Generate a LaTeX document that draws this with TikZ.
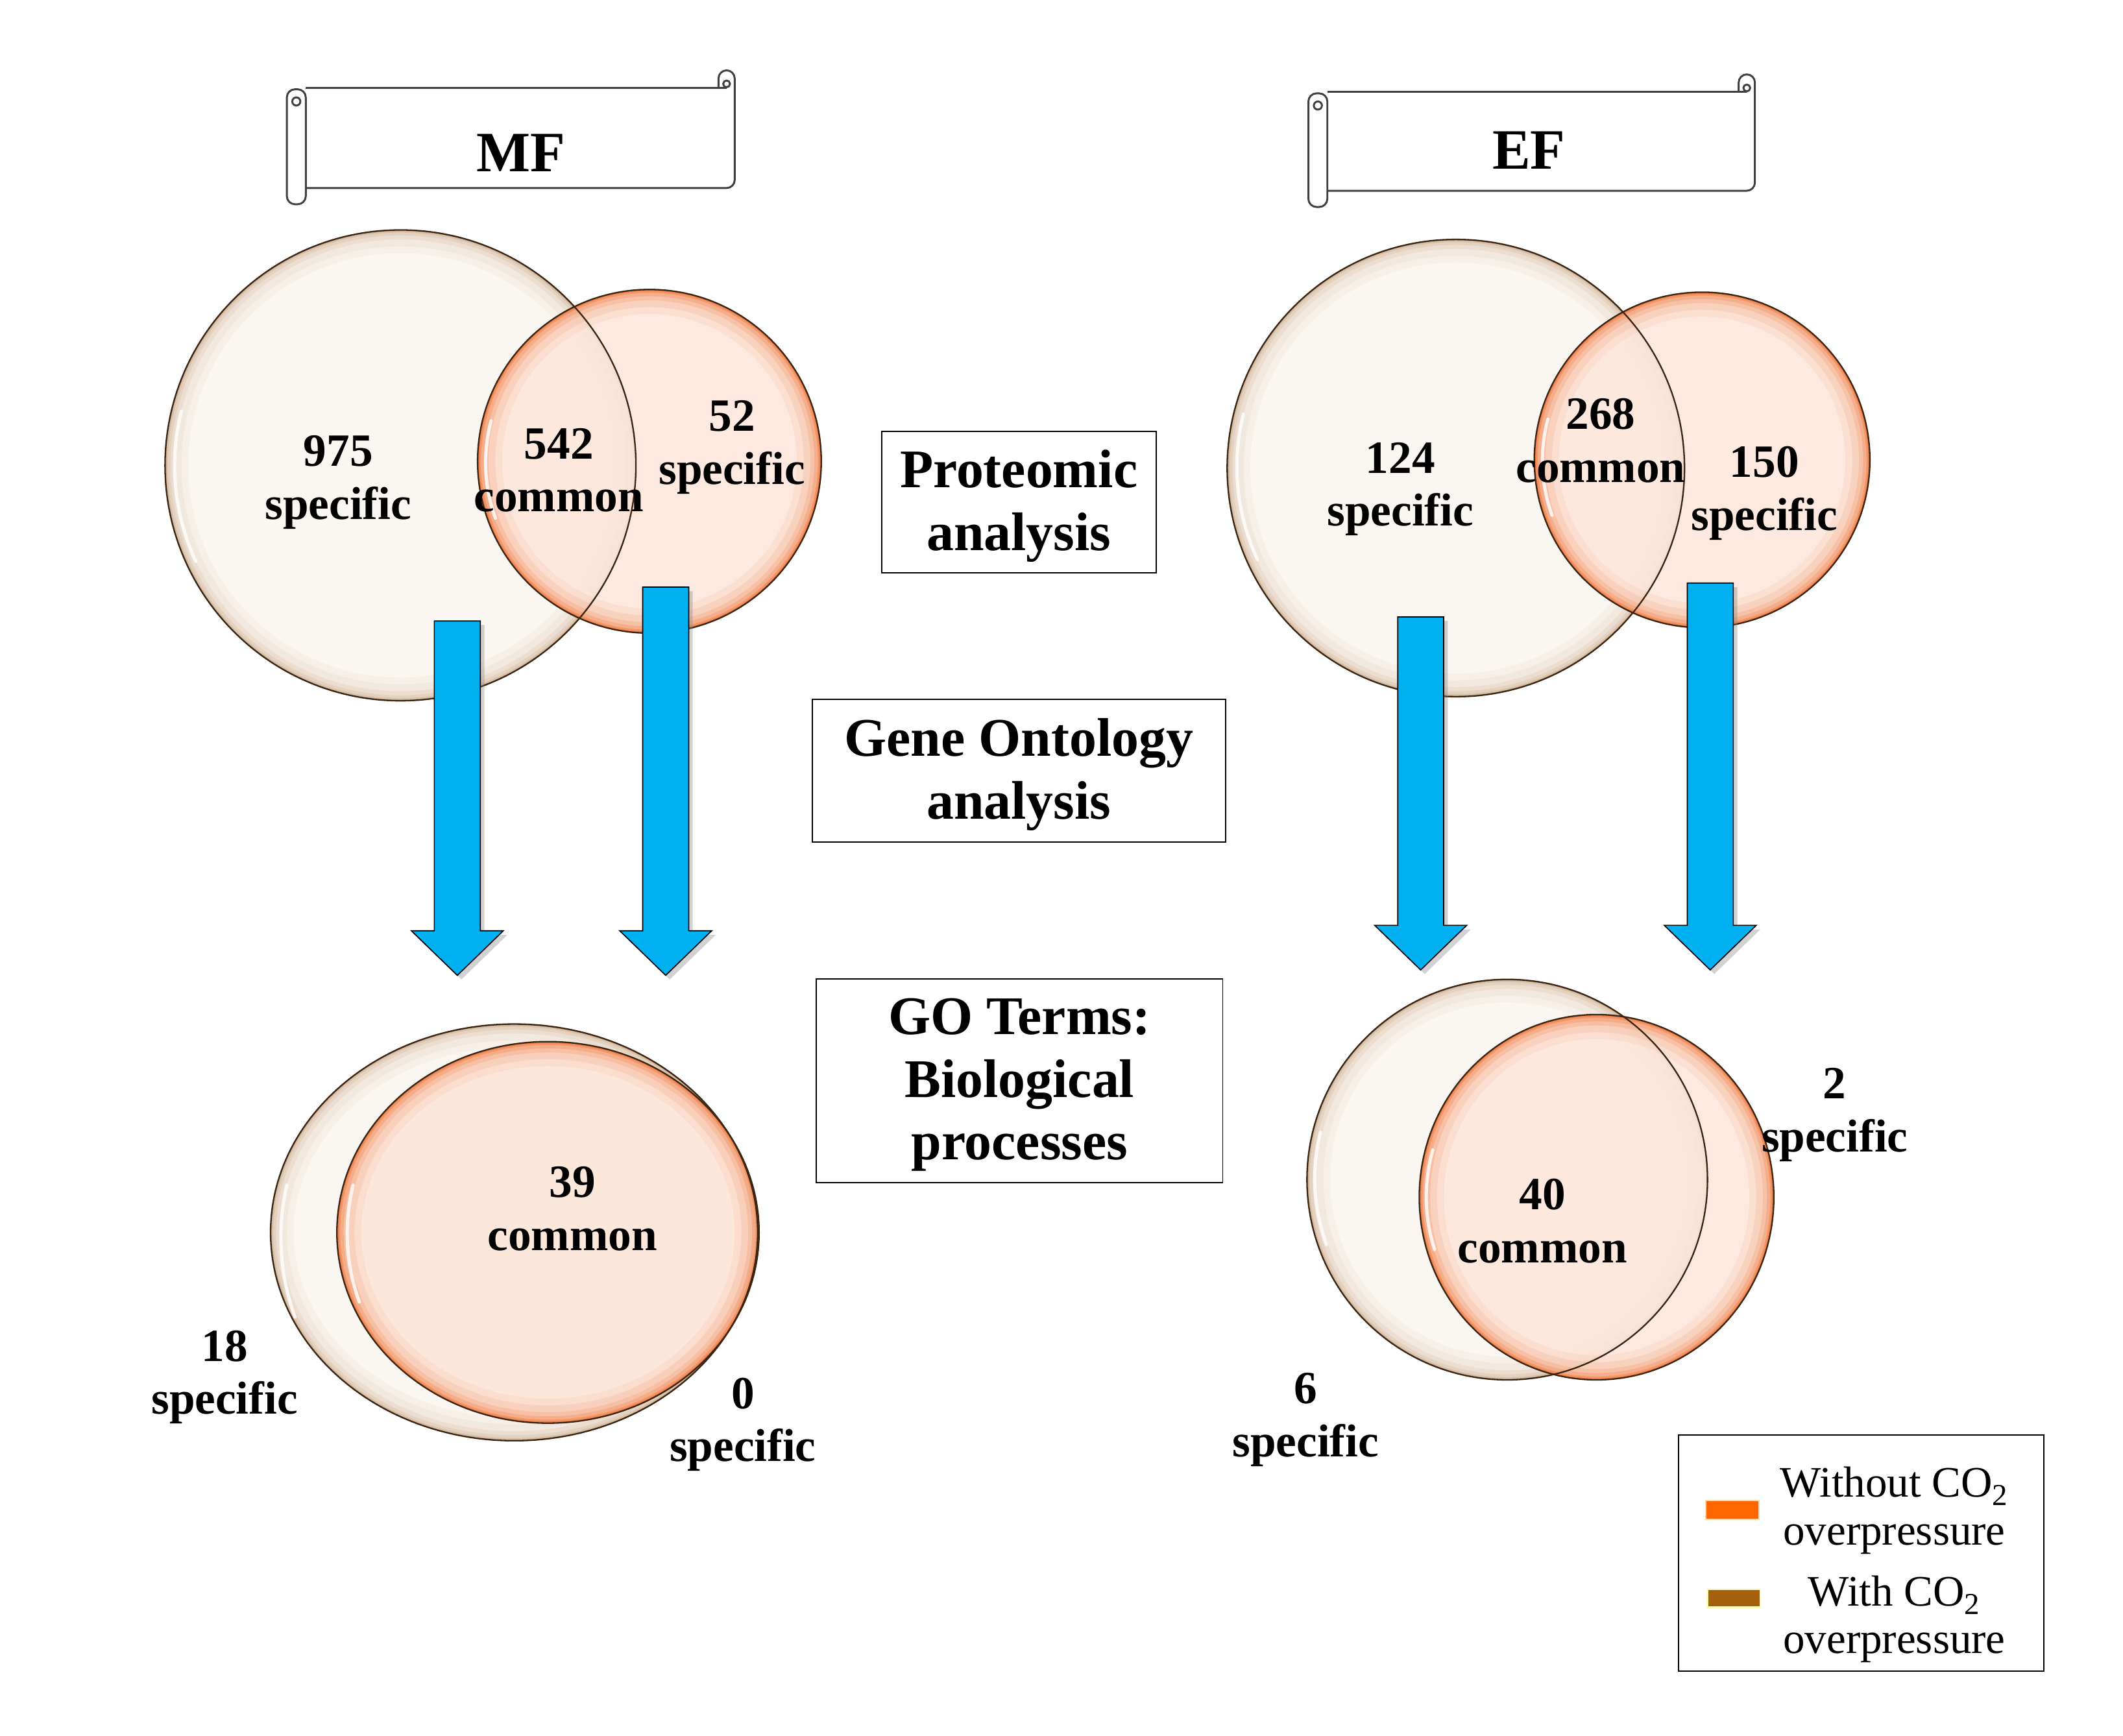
\documentclass[tikz,border=0pt]{standalone}
\usepackage{fontspec}
\setmainfont{Liberation Serif}
\usetikzlibrary{shadows,calc}
\definecolor{crA}{HTML}{FAF6F1}
\definecolor{crG}{HTML}{B98A5C}
\definecolor{orA}{HTML}{FDE6DA}
\definecolor{orG}{HTML}{EE6420}
\definecolor{brline}{HTML}{3A2412}
\definecolor{arrblue}{HTML}{00B0F0}
\definecolor{legor}{HTML}{FF6600}
\definecolor{legbr}{HTML}{A5600E}
\begin{document}
\begin{tikzpicture}[x=1pt,y=-1pt,
  rimline/.style={draw=brline,line width=1.1pt},
  gloss/.style={white,line width=2.4pt,opacity=0.8,line cap=round},
  vlabel/.style={align=center,font=\bfseries\fontsize{34}{39}\selectfont,inner sep=0pt,yshift=-3.5pt},
  boxframe/.style={draw=black,line width=0.9pt,inner sep=0pt},
  boxlabel/.style={align=center,font=\bfseries\fontsize{40}{46}\selectfont,inner sep=0pt,yshift=-3pt},
  title/.style={font=\bfseries\fontsize{42}{48}\selectfont,inner sep=0pt},
  scroll/.style={draw=black!75,line width=1.4pt},
  bluearr/.style={fill=arrblue,draw=black,line width=0.8pt,drop shadow={opacity=0.35,shadow xshift=3pt,shadow yshift=-3pt}},
  legtext/.style={align=center,font=\fontsize{32}{35}\selectfont,inner sep=0pt,yshift=-3pt}]
\useasboundingbox (0,0) rectangle (1562,1277);
\fill[white] (0,0) rectangle (1562,1277);

% glowing disc: name, cx, cy, rx, ry, base, glow, fill opacity, list width/opacity
\newcommand{\glowell}[9]{%
  \coordinate (#1) at (#2,#3);
  \fill[#6,fill opacity=#8] (#1) ellipse[x radius=#4pt,y radius=#5pt];
  \begin{scope}
    \clip (#1) ellipse[x radius=#4pt,y radius=#5pt];
    \foreach \w/\o in #9
      \draw[#7,line width=\w pt,opacity=\o] (#1) ellipse[x radius=#4pt,y radius=#5pt];
  \end{scope}}
\def\creamlist{34/0.05,24/0.07,14/0.10,8/0.14,4/0.2,2/0.3}
\def\orangelist{36/0.07,26/0.10,16/0.15,10/0.2,5/0.3,2.5/0.45}

\newcommand{\scrollbanner}[5]{% left, right, top, bottom, name
  \coordinate (#5) at ({(#1+#2)/2},{(#3+#4)/2});
  \draw[scroll] (#1+6,#3) -- (#2-6,#3);
  \draw[scroll] (#1+6,#4) -- (#2-6,#4) arc[start angle=-90,end angle=0,radius=6pt] -- (#2,#3-7);
  \draw[scroll] (#2,#3-7) arc[start angle=0,end angle=180,radius=6pt] -- (#2-12,#3);
  \draw[scroll] (#2-6,#3-3) circle[radius=2.5pt];
  \draw[scroll,rounded corners=6pt] (#1-8,#3+1) rectangle (#1+6,#4+12);
  \draw[scroll] (#1-1,#3+10) circle[radius=3pt];
}
\newcommand{\bluearrow}[4]{% name, x, ytop, ytip
  \coordinate (#1top) at (#2,#3);
  \coordinate (#1tip) at (#2,#4);
  \draw[bluearr] (#2-17,#3) -- (#2+17,#3) -- (#2+17,#4-33) -- (#2+34,#4-33) -- (#1tip)
    -- (#2-34,#4-33) -- (#2-17,#4-33) -- cycle;}

\begin{scope}[scale=0.9955]
% ---------- scrolls ----------
\scrollbanner{220}{543}{65}{139}{mfscroll}
\node[title] (mf) at (385,113) {MF};
\scrollbanner{975}{1297}{68}{141}{efscroll}
\node[title] (ef) at (1130,111) {EF};

% ---------- MF proteomic venn ----------
\glowell{mfA}{296}{344}{174}{174}{crA}{crG}{1}{\creamlist}
\glowell{mfB}{480}{341}{127}{127}{orA}{orG}{0.85}{\orangelist}
\draw[rimline] (mfA) circle[radius=174pt];
\draw[rimline] (mfB) circle[radius=127pt];
\draw[gloss] ($(mfA)+(-162,-40)$) arc[start angle=166,end angle=205,radius=167pt];
\draw[gloss] ($(mfB)+(-117,-30)$) arc[start angle=165,end angle=200,radius=120pt];
\node[vlabel] (t975) at (250,353) {975\\specific};
\node[vlabel] (t542) at (413,344) {542\\common};
\node[vlabel] (t52) at (541,327) {52\\specific};

% ---------- EF proteomic venn ----------
\glowell{efA}{1076}{346}{169}{169}{crA}{crG}{1}{\creamlist}
\glowell{efB}{1258}{340}{124}{124}{orA}{orG}{0.85}{\orangelist}
\draw[rimline] (efA) circle[radius=169pt];
\draw[rimline] (efB) circle[radius=124pt];
\draw[gloss] ($(efA)+(-157,-40)$) arc[start angle=166,end angle=205,radius=162pt];
\draw[gloss] ($(efB)+(-114,-30)$) arc[start angle=165,end angle=200,radius=118pt];
\node[vlabel] (t124) at (1035,358) {124\\specific};
\node[vlabel] (t268) at (1183,322) {268\\common};
\node[vlabel] (t150) at (1304,361) {150\\specific};

% ---------- middle boxes ----------
\node[boxframe,minimum width=202pt,minimum height=104pt] (prot) at (753,371) {};
\node[boxlabel] (protlabel) at (prot) {Proteomic\\analysis};
\node[boxframe,minimum width=304pt,minimum height=105pt] (gene) at (753,569.5) {};
\node[boxlabel] (genelabel) at (gene) {Gene Ontology\\analysis};
\node[boxframe,minimum width=299pt,minimum height=150pt] (goterms) at (753.5,799) {};
\node[boxlabel] (golabel) at (goterms) {GO Terms:\\Biological\\processes};

% ---------- MF GO venn ----------
\glowell{mfC}{380}{911}{180}{154}{crA}{crG}{1}{\creamlist}
\glowell{mfD}{405}{911}{156}{141}{orA}{orG}{0.92}{\orangelist}
\draw[rimline] (mfC) ellipse[x radius=180pt,y radius=154pt];
\draw[rimline] (mfD) ellipse[x radius=156pt,y radius=141pt];
\draw[gloss] ($(mfC)+(-168,-35)$) arc[start angle=167,end angle=200,radius=172pt];
\draw[gloss] ($(mfD)+(-144,-35)$) arc[start angle=166,end angle=200,radius=148pt];
\node[vlabel] (t39) at (423,890) {39\\common};
\node[vlabel] (t18) at (166,1014.5) {18\\specific};
\node[vlabel] (t0) at (549,1049.5) {0\\specific};

% ---------- EF GO venn ----------
\glowell{efC}{1114}{872}{148}{148}{crA}{crG}{1}{\creamlist}
\glowell{efD}{1180}{885}{131}{135}{orA}{orG}{0.85}{\orangelist}
\draw[rimline] (efC) ellipse[x radius=148pt,y radius=148pt];
\draw[rimline] (efD) ellipse[x radius=131pt,y radius=135pt];
\draw[gloss] ($(efC)+(-138,-35)$) arc[start angle=166,end angle=200,radius=142pt];
\draw[gloss] ($(efD)+(-121,-35)$) arc[start angle=164,end angle=198,radius=126pt];
\node[vlabel] (t40) at (1140,899) {40\\common};
\node[vlabel] (t2) at (1356,820.5) {2\\specific};
\node[vlabel] (t6) at (965,1046) {6\\specific};

% ---------- block arrows ----------
\bluearrow{amfl}{338}{459}{721}
\bluearrow{amfr}{492}{434}{721}
\bluearrow{aefl}{1050}{456}{717}
\bluearrow{aefr}{1264}{431}{717}

% ---------- legend ----------
\node[draw=black,line width=0.9pt,minimum width=269pt,minimum height=174pt,inner sep=0pt] (legend) at (1375.5,1148) {};
\node[fill=legor,draw=orange!30!white,line width=1pt,minimum width=39pt,minimum height=14pt,inner sep=0pt] (swor) at (1280.5,1116) {};
\node[fill=legbr,draw=yellow!30!white,line width=1.2pt,minimum width=39pt,minimum height=13pt,inner sep=0pt] (swbr) at (1281.5,1181.5) {};
\node[legtext] (lwo) at (1400,1113.5) {Without CO\textsubscript{2}\\overpressure};
\node[legtext] (lw) at (1400,1194) {With CO\textsubscript{2}\\overpressure};
\end{scope}
\end{tikzpicture}
\end{document}
